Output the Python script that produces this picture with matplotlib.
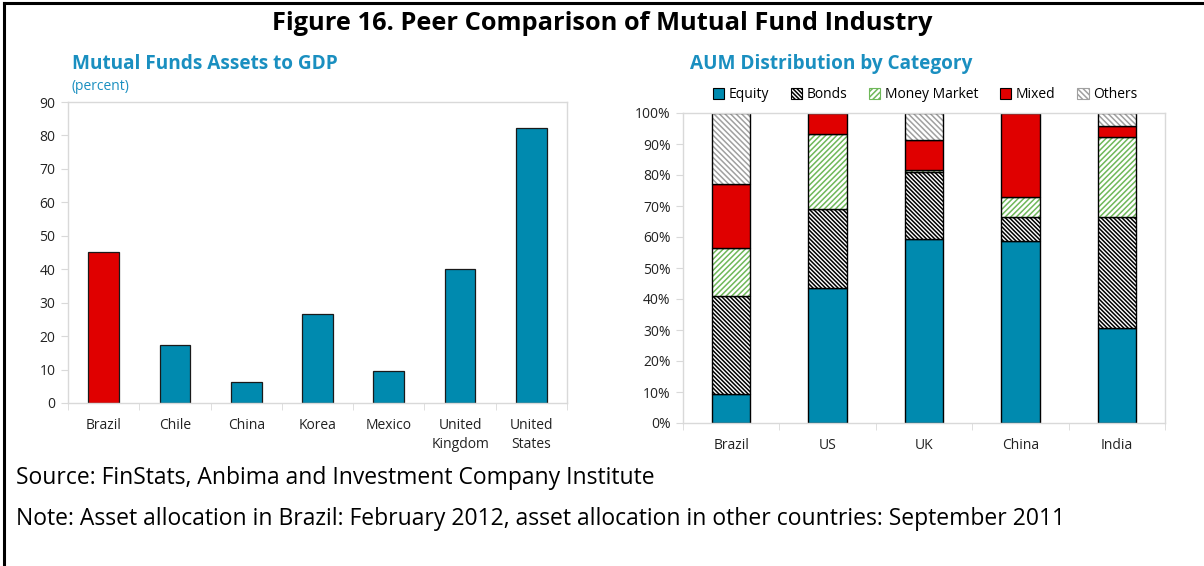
import matplotlib
matplotlib.use("Agg")
from matplotlib import pyplot as plt
from matplotlib.patches import Patch
import numpy as np

plt.rcParams['font.family'] = ['Open Sans', 'DejaVu Sans']
plt.rcParams['hatch.linewidth'] = 1.1

# left panel data
countries = ['Brazil', 'Chile', 'China', 'Korea', 'Mexico', 'United\nKingdom', 'United\nStates']
assets_gdp = [45.2, 17.3, 6.4, 26.5, 9.7, 40.0, 82.2]

# right panel data (percent of AUM)
aum_countries = ['Brazil', 'US', 'UK', 'China', 'India']
equity = [9.4, 43.7, 59.4, 58.6, 30.7]
bonds = [31.6, 25.4, 21.6, 8.0, 35.9]
money_market = [15.5, 24.0, 0.6, 6.2, 25.6]
mixed = [20.6, 6.9, 9.7, 27.2, 3.5]
others = [22.9, 0.0, 8.7, 0.0, 4.3]

teal = '#008aaf'
red = '#e00000'
head = '#1a8fc0'
spine = '#d9d9d9'
txt = '#222222'

W, H = 1204, 566
fig = plt.figure(figsize=(W/100, H/100), dpi=100)

def px(x0, y0, x1, y1):
    return [x0/W, 1 - y1/H, (x1-x0)/W, (y1-y0)/H]

# frame: top and left lines
fig.add_artist(plt.Line2D([4/W, 4/W], [0, 1 - 3/H], color='black', lw=2.2))
fig.add_artist(plt.Line2D([4/W, 1], [1 - 3/H, 1 - 3/H], color='black', lw=2.2))

fig.text(602/W, 1 - 23/H, 'Figure 16. Peer Comparison of Mutual Fund Industry',
         ha='center', va='center', fontsize=18.3, fontweight='bold', color='black')

def style_axes(ax):
    for s in ax.spines.values():
        s.set_color(spine)
        s.set_linewidth(1.0)
    ax.tick_params(axis='y', length=5, color=spine, labelsize=10, labelcolor=txt, pad=4)
    ax.tick_params(axis='x', length=0, labelsize=10, labelcolor=txt, pad=11)

# ---- left: mutual funds assets to GDP
ax1 = fig.add_axes(px(68, 102, 567, 403))
x = np.arange(len(countries))
cols = [red] + [teal] * (len(countries) - 1)
ax1.bar(x, assets_gdp, width=0.43, color=cols, edgecolor='#1a1a1a', linewidth=0.9)
ax1.set_xlim(-0.5, len(countries) - 0.5)
ax1.set_ylim(0, 90)
ax1.set_yticks(range(0, 91, 10))
ax1.set_xticks(x)
ax1.set_xticklabels(countries, linespacing=1.3)
ax1.set_xticks(np.arange(-0.5, len(countries), 1), minor=True)
ax1.tick_params(axis='x', which='minor', length=5, color=spine)
style_axes(ax1)
fig.text(72/W, 1 - 64/H, 'Mutual Funds Assets to GDP', ha='left', va='center',
         fontsize=13.7, fontweight='bold', color=head)
fig.text(72/W, 1 - 87/H, '(percent)', ha='left', va='center', fontsize=10, color=head)

# ---- right: AUM distribution
ax2 = fig.add_axes(px(683, 113, 1165, 423))
x2 = np.arange(len(aum_countries))
bw = 0.40
series = [
    ('Equity', equity, teal, None, teal),
    ('Bonds', bonds, 'white', '\\' * 8, 'black'),
    ('Money Market', money_market, 'white', '/' * 6, '#6fb85a'),
    ('Mixed', mixed, red, None, red),
    ('Others', others, 'white', '\\' * 6, '#a0a0a0'),
]
bottom = np.zeros(len(aum_countries))
handles = []
for name, vals, fc, hatch, hc in series:
    vals = np.array(vals)
    ax2.bar(x2, vals, bw, bottom=bottom, color=fc, edgecolor=hc, hatch=hatch, linewidth=0)
    ax2.bar(x2, vals, bw, bottom=bottom, fill=False, edgecolor='black', linewidth=1.0)
    handles.append(Patch(facecolor=fc, edgecolor=hc if hatch else 'black', hatch=hatch, linewidth=0.8))
    bottom += vals
ax2.set_xlim(-0.5, len(aum_countries) - 0.5)
ax2.set_ylim(0, 100)
ax2.set_yticks(range(0, 101, 10))
ax2.set_yticklabels(['%d%%' % v for v in range(0, 101, 10)])
ax2.set_xticks(x2)
ax2.set_xticklabels(aum_countries)
ax2.set_xticks(np.arange(-0.5, len(aum_countries), 1), minor=True)
ax2.tick_params(axis='x', which='minor', length=5, color=spine)
style_axes(ax2)
fig.text(690/W, 1 - 64/H, 'AUM Distribution by Category', ha='left', va='center',
         fontsize=13.7, fontweight='bold', color=head)
fig.legend(handles, [s[0] for s in series], loc='center', bbox_to_anchor=(925/W, 1 - 95/H),
           ncol=5, frameon=False, fontsize=10, handlelength=0.8, handleheight=0.8,
           handletextpad=0.3, columnspacing=1.6, borderpad=0)

fig.text(16/W, 1 - 478/H, 'Source: FinStats, Anbima and Investment Company Institute',
         ha='left', va='center', fontsize=16.5, color='black')
fig.text(16/W, 1 - 519/H, 'Note: Asset allocation in Brazil: February 2012, asset allocation in other countries: September 2011',
         ha='left', va='center', fontsize=16.5, color='black')

fig.savefig('out.png', dpi=100)
